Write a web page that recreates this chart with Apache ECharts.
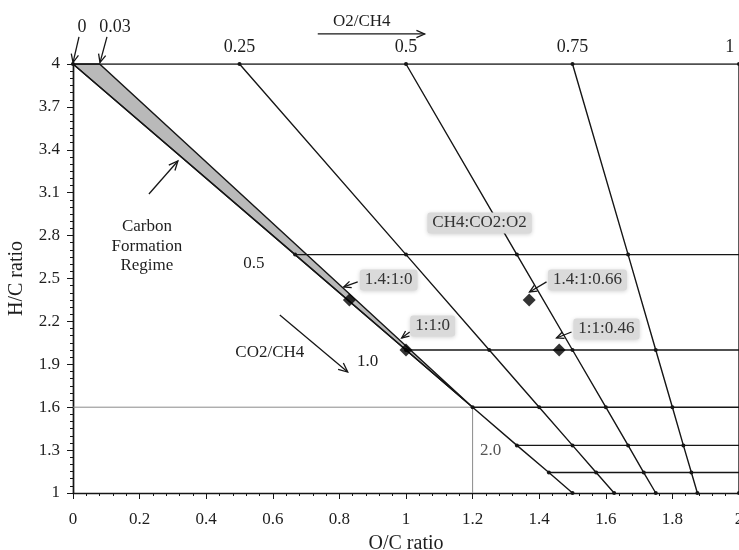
<!DOCTYPE html>
<html>
<head>
<meta charset="utf-8">
<script src="https://cdn.jsdelivr.net/npm/echarts@6/dist/echarts.min.js"></script>
<style>
  html, body { margin: 0; padding: 0; background: #fff; }
  #chart { width: 739px; height: 550px; }
</style>
</head>
<body>
<div id="chart"></div>
<script>
const FONT = '"Liberation Serif", "Times New Roman", serif';
const INK = '#161616';
const TEXT = '#1e1e1e';

// H/C axis labels
const hcTicks = [1, 1.3, 1.6, 1.9, 2.2, 2.5, 2.8, 3.1, 3.4, 3.7, 4];

// Constant O2/CH4 lines, from the CH4/O2 edge (H/C = 4) down to H/C = 1,
// with a vertex at every CO2/CH4 level they cross
const o2Line000 = [[0, 4], [0.667, 2.667], [1, 2], [1.2, 1.6], [1.333, 1.333], [1.429, 1.143], [1.5, 1]];
const o2Line025 = [[0.5, 4], [1.0, 2.667], [1.25, 2], [1.4, 1.6], [1.5, 1.333], [1.571, 1.143], [1.625, 1]];
const o2Line050 = [[1, 4], [1.333, 2.667], [1.5, 2], [1.6, 1.6], [1.667, 1.333], [1.714, 1.143], [1.75, 1]];
const o2Line075 = [[1.5, 4], [1.667, 2.667], [1.75, 2], [1.8, 1.6], [1.833, 1.333], [1.857, 1.143], [1.875, 1]];
const o2Line100 = [[2, 4], [2, 1]];

// O2/CH4 values written along the top edge, and where they sit on it
const o2TopLabels = ['0', '0.03', '0.25', '0.5', '0.75', '1'];
const o2TopX = [0, 0.08, 0.5, 1, 1.5, 2];

// Constant CO2/CH4 levels: H/C value and the O/C where each one starts
const co2Levels = [4, 2.667, 2, 1.6, 1.333, 1.143];
const co2LevelStart = [0, 0.667, 1, 1.2, 1.333, 1.429];

// Carbon formation regime (shaded wedge)
const carbonRegime = [[0, 4], [0.08, 4], [1.2, 1.6]];

// Guide lines to the CO2/CH4 = 1.5 point
const guideH = [[0, 1.6], [1.2, 1.6]];
const guideV = [[1.2, 1], [1.2, 1.6]];

// Feed blends CH4:CO2:O2
const blendNames = ['1.4:1:0', '1:1:0', '1.4:1:0.66', '1:1:0.46'];
const blendOC = [0.83, 1.0, 1.37, 1.46];
const blendHC = [2.35, 2.0, 2.35, 2.0];

// fine tick marks along the H/C axis (every 0.05)
const hcFineTicks = [];
for (let k = 0; k <= 60; k++) hcFineTicks.push(Math.round((1 + k * 0.05) * 100) / 100);

const chart = echarts.init(document.getElementById('chart'), null, { renderer: 'canvas' });

const feedLine = (data) => ({
  type: 'line', data, silent: true, z: 4,
  symbol: 'circle', symbolSize: 4, showSymbol: true,
  itemStyle: { color: INK },
  lineStyle: { color: INK, width: 1.4 },
  animation: false
});
const plainLine = (data, color, width, z) => ({
  type: 'line', data, silent: true, z: z || 3,
  symbol: 'none',
  lineStyle: { color, width },
  animation: false
});

const series = [
  {
    type: 'custom', silent: true, z: 2,
    data: [0],
    renderItem: (params, api) => ({
      type: 'polygon',
      shape: { points: carbonRegime.map(p => api.coord(p)) },
      style: { fill: '#b9b9b9', stroke: INK, lineWidth: 1.4 }
    }),
    animation: false
  },
  plainLine(guideH, '#8a8a8a', 1, 2),
  plainLine(guideV, '#8a8a8a', 1, 2)
];
co2Levels.forEach((lvl, i) => {
  series.push(plainLine([[co2LevelStart[i], lvl], [2, lvl]], INK, 1.4, 3));
});
[o2Line000, o2Line025, o2Line050, o2Line075, o2Line100].forEach(d => series.push(feedLine(d)));
series.push({
  type: 'scatter', z: 6, silent: true,
  symbol: 'diamond', symbolSize: [13, 13],
  itemStyle: { color: '#000' },
  data: blendOC.map((x, i) => [x, blendHC[i]]),
  animation: false
});

chart.setOption({
  animation: false,
  grid: { left: 73, right: 0, top: 64, bottom: 57, containLabel: false, outerBoundsMode: 'none' },
  xAxis: {
    type: 'value', min: 0, max: 2, interval: 0.2,
    axisLine: { show: true, onZero: false, lineStyle: { color: INK, width: 1.4 } },
    axisTick: { show: true, length: 6, lineStyle: { color: INK } },
    minorTick: { show: true, splitNumber: 5, length: 3, lineStyle: { color: INK } },
    axisLabel: { fontFamily: FONT, fontSize: 17, color: TEXT, margin: 18 },
    splitLine: { show: false },
    name: 'O/C ratio', nameLocation: 'middle', nameGap: 41,
    nameTextStyle: { fontFamily: FONT, fontSize: 20, color: TEXT }
  },
  yAxis: [
    {
      type: 'value', min: 1, max: 4, position: 'left',
      axisLine: { show: true, onZero: false, lineStyle: { color: INK, width: 1.4 } },
      axisTick: { show: true, length: 6, customValues: hcTicks, lineStyle: { color: INK } },
      axisLabel: { customValues: hcTicks, fontFamily: FONT, fontSize: 17, color: TEXT, margin: 13,
                   formatter: v => String(v) },
      splitLine: { show: false },
      name: 'H/C ratio', nameLocation: 'middle', nameGap: 46,
      nameTextStyle: { fontFamily: FONT, fontSize: 20, color: TEXT }
    },
    {
      type: 'value', min: 1, max: 4, position: 'left', offset: 0,
      axisLine: { show: true, onZero: false, lineStyle: { color: INK, width: 1.4 } },
      axisTick: { show: true, length: 3, customValues: hcFineTicks, lineStyle: { color: INK } },
      axisLabel: { show: false },
      splitLine: { show: false }
    }
  ],
  series
});

// ---- annotations, placed in data coordinates ----
const px = p => chart.convertToPixel({ gridIndex: 0 }, p);

function arrow(from, to, head) {
  const a = px(from), b = px(to);
  const ang = Math.atan2(b[1] - a[1], b[0] - a[0]);
  const h = head || 8, s = 0.42;
  const h1 = [b[0] - h * Math.cos(ang - s), b[1] - h * Math.sin(ang - s)];
  const h2 = [b[0] - h * Math.cos(ang + s), b[1] - h * Math.sin(ang + s)];
  return [
    { type: 'line', silent: true, z: 20, shape: { x1: a[0], y1: a[1], x2: b[0], y2: b[1] },
      style: { stroke: INK, lineWidth: 1.3 } },
    { type: 'polyline', silent: true, z: 20, shape: { points: [h1, b, h2] },
      style: { stroke: INK, lineWidth: 1.3, fill: null } }
  ];
}
function label(text, at, size, extra) {
  const p = px(at);
  return {
    type: 'text', silent: true, z: 21, x: p[0], y: p[1],
    style: Object.assign({ text, font: size + 'px ' + FONT, fill: TEXT, align: 'center', verticalAlign: 'middle' }, extra || {})
  };
}
function boxed(text, at, size) {
  return label(text, at, size, {
    fill: '#333', backgroundColor: '#dadada', padding: [2, 5, 2, 5], borderRadius: 3,
    shadowBlur: 4, shadowColor: 'rgba(0,0,0,0.18)', shadowOffsetY: 1
  });
}

const topY = 4.12;
const g = [];
o2TopLabels.forEach((t, i) => {
  let x = o2TopX[i];
  let y = topY;
  if (i === 0) { x = 0.027; y = 4.26; }
  if (i === 1) { x = 0.126; y = 4.26; }
  if (i === o2TopLabels.length - 1) x = 1.972;
  g.push(label(t, [x, y], 18));
});
g.push(...arrow([0.018, 4.19], [0, 4.01], 9));
g.push(...arrow([0.102, 4.19], [0.081, 4.01], 9));
g.push(label('O2/CH4', [0.867, 4.3], 17));
g.push(...arrow([0.735, 4.21], [1.056, 4.21], 9));

g.push(label('Carbon\nFormation\nRegime', [0.222, 2.727], 17, { lineHeight: 19.5 }));
g.push(...arrow([0.228, 3.091], [0.315, 3.322], 10));

g.push(label('0.5', [0.543, 2.608], 17));
g.push(label('1.0', [0.885, 1.916], 17));
g.push(label('2.0', [1.254, 1.30], 17, { fill: '#555' }));

g.push(label('CO2/CH4', [0.591, 1.979], 17));
g.push(...arrow([0.621, 2.245], [0.825, 1.846], 10));

g.push(boxed('CH4:CO2:O2', [1.221, 2.888], 17));

const blendBoxes = [[0.948, 2.49], [1.08, 2.168], [1.545, 2.49], [1.602, 2.147]];
const blendArrows = [
  [[0.855, 2.476], [0.813, 2.441]],
  [[1.011, 2.126], [0.987, 2.084]],
  [[1.422, 2.476], [1.371, 2.406]],
  [[1.497, 2.126], [1.452, 2.084]]
];
blendNames.forEach((n, i) => {
  g.push(boxed(n, blendBoxes[i], 17));
  g.push(...arrow(blendArrows[i][0], blendArrows[i][1], 8));
});

chart.setOption({ graphic: g });
</script>
</body>
</html>
